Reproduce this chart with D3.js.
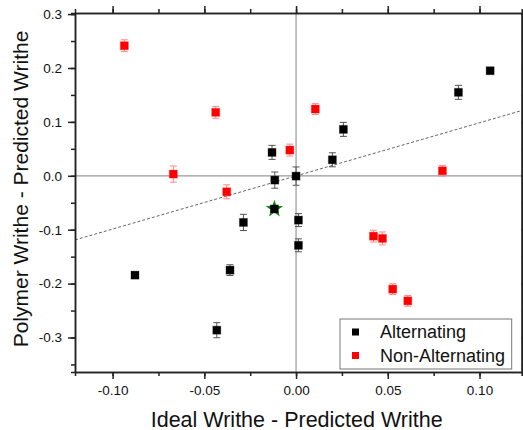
<!DOCTYPE html>
<meta charset="utf-8">
<style>
body { margin: 0; background: #fff; }
svg text { font-family: "Liberation Sans", Arial, sans-serif; fill: #111; }
.axis path, .axis line { stroke: #222; stroke-width: 1.5; }
.axis text { font-size: 13.5px; }
</style>
<body>
<script src="https://d3js.org/d3.v7.min.js"></script>
<script>
// Alternating series (black)
var altX = [0.1058, 0.0885, 0.0258, -0.0131, 0.0198, -0.0116, 0.0000, -0.0118, 0.0013, 0.0013, -0.0287, -0.0360, -0.0432, -0.0878];
var altY = [0.1949, 0.1548, 0.0861, 0.0434, 0.0297, -0.0080, -0.0006, -0.0615, -0.0822, -0.1290, -0.0865, -0.1750, -0.2864, -0.1843];
var altErr = [0.003, 0.013, 0.013, 0.013, 0.013, 0.015, 0.017, 0.004, 0.012, 0.012, 0.015, 0.010, 0.014, 0.003];
// Non-Alternating series (red)
var nonX = [-0.0936, -0.0438, -0.0669, -0.0378, -0.0034, 0.0105, 0.0798, 0.0422, 0.0471, 0.0527, 0.0609];
var nonY = [0.2413, 0.1177, 0.0032, -0.0297, 0.0477, 0.1238, 0.0093, -0.1120, -0.1162, -0.2103, -0.2320];
var nonErr = [0.011, 0.011, 0.015, 0.013, 0.011, 0.010, 0.010, 0.011, 0.012, 0.010, 0.010];
// highlighted point (star)
var starX = [-0.0118];
var starY = [-0.0615];
// dotted fit line
var fitX = [-0.1205, 0.123];
var fitY = [-0.119, 0.121];

var xTicks = [-0.10, -0.05, 0.00, 0.05, 0.10];
var yTicks = [-0.3, -0.2, -0.1, 0.0, 0.1, 0.2, 0.3];
var legendLabels = ["Alternating", "Non-Alternating"];

var margin = {top: 13, right: 1.3, bottom: 58, left: 75},
    width = 523 - margin.left - margin.right,
    height = 430 - margin.top - margin.bottom;

var svg = d3.select("body").append("svg")
    .attr("width", 523)
    .attr("height", 430);

var g = svg.append("g")
    .attr("transform", "translate(" + margin.left + "," + margin.top + ")");

var x = d3.scaleLinear().domain([-0.1205, 0.123]).range([0, width]);
var y = d3.scaleLinear().domain([-0.364, 0.302]).range([height, 0]);

var xMinor = d3.range(-0.125, 0.126, 0.025).filter(function(d) { return d > -0.1205 && d < 0.123; });
var yMinor = d3.range(-0.35, 0.31, 0.05).filter(function(d) { return d > -0.364 && d < 0.302; });

// zero lines
g.append("line").attr("x1", 0).attr("x2", width).attr("y1", y(0)).attr("y2", y(0))
    .attr("stroke", "#999").attr("stroke-width", 1.2);
g.append("line").attr("x1", x(0)).attr("x2", x(0)).attr("y1", 0).attr("y2", height)
    .attr("stroke", "#999").attr("stroke-width", 1.2);

// fit line
g.append("path")
    .datum(fitX.map(function(d, i) { return [d, fitY[i]]; }))
    .attr("d", d3.line().x(function(d) { return x(d[0]); }).y(function(d) { return y(d[1]); }))
    .attr("fill", "none")
    .attr("stroke", "#666")
    .attr("stroke-width", 1)
    .attr("stroke-dasharray", "3,2");

// axes: minor ticks first, then major with labels
function minorAxis(axis, vals) {
  return axis.tickValues(vals).tickSize(4).tickFormat("");
}
g.append("g").attr("class", "axis").attr("transform", "translate(0," + height + ")")
    .call(minorAxis(d3.axisBottom(x), xMinor));
g.append("g").attr("class", "axis")
    .call(minorAxis(d3.axisTop(x), xMinor));
g.append("g").attr("class", "axis")
    .call(minorAxis(d3.axisLeft(y), yMinor));
g.append("g").attr("class", "axis").attr("transform", "translate(" + width + ",0)")
    .call(minorAxis(d3.axisRight(y), yMinor));

g.append("g").attr("class", "axis").attr("transform", "translate(0," + height + ")")
    .call(d3.axisBottom(x).tickValues(xTicks).tickSize(7).tickSizeOuter(0).tickPadding(6)
      .tickFormat(function(d) { return d.toFixed(2); }));
g.append("g").attr("class", "axis")
    .call(d3.axisTop(x).tickValues(xTicks).tickSize(7).tickSizeOuter(0).tickFormat(""));
g.append("g").attr("class", "axis")
    .call(d3.axisLeft(y).tickValues(yTicks).tickSize(7).tickSizeOuter(0).tickPadding(6)
      .tickFormat(function(d) { return d.toFixed(1); }));
g.append("g").attr("class", "axis").attr("transform", "translate(" + width + ",0)")
    .call(d3.axisRight(y).tickValues(yTicks).tickSize(7).tickSizeOuter(0).tickFormat(""));

// series drawing
function drawSeries(xs, ys, errs, color, barColor) {
  var data = xs.map(function(d, i) { return {x: d, y: ys[i], e: errs[i]}; });
  var eb = g.append("g").selectAll("g").data(data).enter().append("g")
      .attr("stroke", barColor).attr("stroke-width", 1);
  eb.append("line")
      .attr("x1", function(d) { return x(d.x); }).attr("x2", function(d) { return x(d.x); })
      .attr("y1", function(d) { return y(d.y + d.e); }).attr("y2", function(d) { return y(d.y - d.e); });
  eb.append("line")
      .attr("x1", function(d) { return x(d.x) - 3.5; }).attr("x2", function(d) { return x(d.x) + 3.5; })
      .attr("y1", function(d) { return y(d.y + d.e); }).attr("y2", function(d) { return y(d.y + d.e); });
  eb.append("line")
      .attr("x1", function(d) { return x(d.x) - 3.5; }).attr("x2", function(d) { return x(d.x) + 3.5; })
      .attr("y1", function(d) { return y(d.y - d.e); }).attr("y2", function(d) { return y(d.y - d.e); });
  return data;
}
function drawSquares(data, color) {
  g.append("g").selectAll("rect").data(data).enter().append("rect")
      .attr("x", function(d) { return x(d.x) - 4; })
      .attr("y", function(d) { return y(d.y) - 4; })
      .attr("width", 8).attr("height", 8)
      .attr("fill", color)
      .attr("stroke", color).attr("stroke-opacity", 0.3).attr("stroke-width", 1);
}

var nonData = drawSeries(nonX, nonY, nonErr, "#ff0000", "#ff8a8a");
var altData = drawSeries(altX, altY, altErr, "#000", "#555");

// star behind highlighted point
g.append("g").selectAll("path").data(starX).enter().append("path")
    .attr("transform", function(d, i) { return "translate(" + x(d) + "," + y(starY[i]) + ")"; })
    .attr("d", d3.symbol().type(d3.symbolStar).size(95))
    .attr("fill", "#0a8a0a");

drawSquares(nonData, "#ff0000");
drawSquares(altData, "#000");

// axis titles
svg.append("text")
    .attr("x", 296.7)
    .attr("y", 426.5)
    .attr("text-anchor", "middle")
    .style("font-size", "21.5px")
    .text("Ideal Writhe - Predicted Writhe");
svg.append("text")
    .attr("transform", "translate(27.5,189) rotate(-90)")
    .attr("text-anchor", "middle")
    .style("font-size", "21px")
    .text("Polymer Writhe - Predicted Writhe");

// legend
var lg = svg.append("g").attr("transform", "translate(340,319)");
lg.append("rect").attr("width", 171.7).attr("height", 50)
    .attr("fill", "#fff").attr("stroke", "#777").attr("stroke-width", 1);
var items = lg.selectAll("g.item").data(legendLabels).enter().append("g")
    .attr("transform", function(d, i) { return "translate(0," + (13 + i * 23.5) + ")"; });
items.append("rect").attr("x", 12).attr("y", -3.5).attr("width", 7).attr("height", 7)
    .attr("fill", function(d, i) { return i === 0 ? "#000" : "#ff0000"; });
items.append("text").attr("x", 40).attr("y", 6)
    .style("font-size", "18px")
    .text(function(d) { return d; });
</script>
</body>
